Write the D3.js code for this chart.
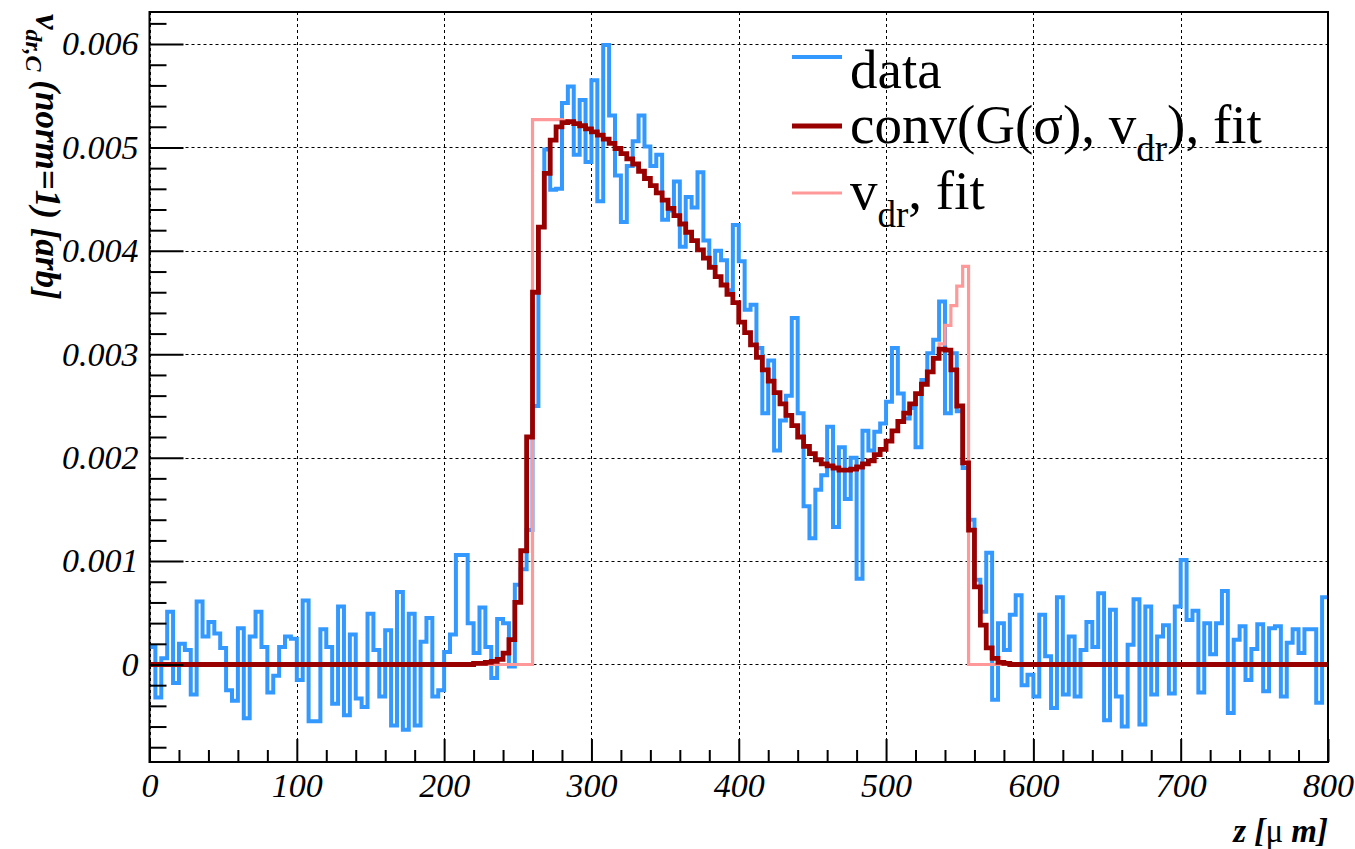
<!DOCTYPE html>
<html><head><meta charset="utf-8">
<script src="https://cdn.jsdelivr.net/npm/d3@7"></script>
<style>html,body{margin:0;padding:0;background:#fff;} svg{display:block;}</style>
</head><body>
<svg id="chart" width="1355" height="849"></svg>
<script>
// ---------- data (values in units of 1e-4) ----------
const unit = 1e-4;
const binWidth = 4; // µm
const binLowEdges = d3.range(0, 800, binWidth); // 200 bins, 0..800 µm

const dataVals = [
  1.7, -3.2, 0.6, 5.1, -1.8, 2.0, 1.4, -2.9, 6.1, 2.7,
  4.1, 3.0, 1.6, -2.5, -3.5, 3.5, -5.2, 2.7, 5.1, 1.7,
  -2.7, -1.1, 1.7, 2.7, 2.5, -1.5, 6.2, -5.5, -5.5, 3.4,
  1.7, -3.8, 5.6, -4.9, 2.9, -3.3, -4.1, 4.9, 1.4, -3.1,
  3.3, -5.9, 7.0, -6.3, 4.9, -5.9, 2.2, 4.5, -3.1, -2.5,
  1.2, 2.9, 10.6, 10.6, 4.0, 1.1, 5.5, 1.7, -1.3, 4.4,
  4.0, -0.2, 7.7, 9.2, 13.0, 25.0, 42.3, 49.8, 45.9, 46.0,
  54.3, 55.9, 49.3, 54.6, 48.6, 56.5, 44.8, 59.9, 53.1, 47.3,
  42.8, 48.2, 50.6, 53.1, 50.1, 48.2, 49.3, 43.0, 43.9, 46.7,
  40.4, 45.2, 44.2, 47.6, 41.0, 38.5, 40.0, 39.1, 36.2, 42.5,
  39.0, 34.3, 34.8, 30.6, 24.3, 29.4, 20.7, 23.6, 26.0, 33.5,
  24.3, 15.3, 12.2, 16.9, 18.3, 23.0, 13.3, 21.0, 16.0, 20.0,
  8.3, 22.6, 20.7, 22.5, 23.3, 25.4, 30.6, 26.2, 23.8, 24.8,
  21.0, 27.5, 30.1, 31.4, 35.1, 24.3, 30.1, 24.5, 19.0, 14.0,
  8.2, 5.1, 10.8, -3.4, 4.0, 1.4, 4.8, 6.7, -2.0, -1.0,
  -3.1, 4.8, 0.8, -4.2, 6.5, -2.9, 2.7, -3.1, 1.4, 4.1,
  1.7, 6.9, -5.4, 5.3, -3.1, -6.0, 1.9, 6.3, -5.8, 5.6,
  -2.9, 2.7, 3.8, -2.8, 5.6, 10.1, 4.3, 5.2, -2.7, 4.0,
  1.0, 4.0, 7.1, -4.7, 2.4, 3.7, -1.5, 1.5, 3.9, -2.6,
  3.5, 3.7, -3.1, 2.1, 3.4, 1.1, 3.4, 3.4, -3.7, 6.5
];

const convFitVals = [
  0, 0, 0, 0, 0, 0, 0, 0, 0, 0,
  0, 0, 0, 0, 0, 0, 0, 0, 0, 0,
  0, 0, 0, 0, 0, 0, 0, 0, 0, 0,
  0, 0, 0, 0, 0, 0, 0, 0, 0, 0,
  0, 0, 0, 0, 0, 0, 0, 0, 0, 0,
  0, 0, 0, 0, 0, 0.1, 0.1, 0.2, 0.3, 0.5,
  1.1, 2.4, 6.0, 11.0, 22.0, 36.0, 42.3, 47.5, 50.7, 52.0,
  52.4, 52.5, 52.3, 52.1, 51.8, 51.5, 51.2, 50.8, 50.4, 49.9,
  49.4, 48.9, 48.4, 47.7, 47.0, 46.3, 45.6, 44.9, 44.1, 43.4,
  42.6, 41.8, 41.0, 40.1, 39.3, 38.4, 37.5, 36.7, 35.8, 35.0,
  33.1, 32.1, 30.9, 29.7, 28.5, 27.4, 26.3, 25.2, 24.1, 23.1,
  22.0, 21.1, 20.4, 19.8, 19.4, 19.2, 19.0, 18.8, 18.8, 18.9,
  19.1, 19.4, 19.7, 20.3, 20.8, 21.6, 22.6, 23.5, 24.3, 25.2,
  26.2, 27.1, 28.3, 29.6, 30.5, 30.4, 28.5, 25.0, 19.5, 13.0,
  7.5, 3.8, 1.6, 0.6, 0.2, 0.1, 0, 0, 0, 0,
  0, 0, 0, 0, 0, 0, 0, 0, 0, 0,
  0, 0, 0, 0, 0, 0, 0, 0, 0, 0,
  0, 0, 0, 0, 0, 0, 0, 0, 0, 0,
  0, 0, 0, 0, 0, 0, 0, 0, 0, 0,
  0, 0, 0, 0, 0, 0, 0, 0, 0, 0
];

const vdrFitVals = [
  0, 0, 0, 0, 0, 0, 0, 0, 0, 0,
  0, 0, 0, 0, 0, 0, 0, 0, 0, 0,
  0, 0, 0, 0, 0, 0, 0, 0, 0, 0,
  0, 0, 0, 0, 0, 0, 0, 0, 0, 0,
  0, 0, 0, 0, 0, 0, 0, 0, 0, 0,
  0, 0, 0, 0, 0, 0, 0, 0, 0, 0,
  0, 0, 0, 0, 0, 52.7, 52.7, 52.7, 52.7, 52.7,
  52.6, 52.5, 52.3, 52.1, 51.8, 51.5, 51.2, 50.8, 50.4, 49.9,
  49.4, 48.9, 48.4, 47.7, 47.0, 46.3, 45.6, 44.9, 44.1, 43.4,
  42.6, 41.8, 41.0, 40.1, 39.3, 38.4, 37.5, 36.7, 35.8, 35.0,
  33.1, 32.1, 30.9, 29.7, 28.5, 27.4, 26.3, 25.2, 24.1, 23.1,
  22.0, 21.1, 20.4, 19.8, 19.4, 19.2, 19.0, 18.8, 18.8, 18.9,
  19.1, 19.4, 19.7, 20.3, 20.8, 21.6, 22.6, 23.5, 24.3, 25.2,
  26.2, 27.1, 28.3, 29.6, 31.0, 32.8, 34.7, 36.6, 38.5, 0,
  0, 0, 0, 0, 0, 0, 0, 0, 0, 0,
  0, 0, 0, 0, 0, 0, 0, 0, 0, 0,
  0, 0, 0, 0, 0, 0, 0, 0, 0, 0,
  0, 0, 0, 0, 0, 0, 0, 0, 0, 0,
  0, 0, 0, 0, 0, 0, 0, 0, 0, 0,
  0, 0, 0, 0, 0, 0, 0, 0, 0, 0
];

const xMajorTicks = [0, 100, 200, 300, 400, 500, 600, 700, 800];
const xTickLabels = ["0", "100", "200", "300", "400", "500", "600", "700", "800"];
const yMajorTicks = [0, 0.001, 0.002, 0.003, 0.004, 0.005, 0.006];
const yTickLabels = ["0", "0.001", "0.002", "0.003", "0.004", "0.005", "0.006"];
const xMinorTicks = [20,40,60,80,120,140,160,180,220,240,260,280,320,340,360,380,420,440,460,480,520,540,560,580,620,640,660,680,720,740,760,780];
const yMinorTicks = [-0.0008,-0.0006,-0.0004,-0.0002,0.0002,0.0004,0.0006,0.0008,0.0012,0.0014,0.0016,0.0018,0.0022,0.0024,0.0026,0.0028,0.0032,0.0034,0.0036,0.0038,0.0042,0.0044,0.0046,0.0048,0.0052,0.0054,0.0056,0.0058,0.0062];

const seriesColors = { data: "#3399ff", conv: "#990000", vdr: "#ff9999" };

// ---------- layout ----------
const L = 149.5, R = 1328, T = 12, B = 762;
const svg = d3.select("#chart");
const x = d3.scaleLinear().domain([0, 800]).range([L, R]);
const y = d3.scaleLinear().domain([-0.000943, 0.00631]).range([B, T]);

const serif = "'Liberation Serif', 'Times New Roman', Times, serif";

// grid
const grid = svg.append("g").attr("stroke", "#000").attr("stroke-width", 1).attr("stroke-dasharray", "3,3").attr("fill", "none");
grid.selectAll("line.gx").data(xMajorTicks).enter().append("line")
  .attr("x1", d => Math.round(x(d)) + 0.5).attr("x2", d => Math.round(x(d)) + 0.5).attr("y1", T).attr("y2", B);
grid.selectAll("line.gy").data(yMajorTicks).enter().append("line")
  .attr("x1", L).attr("x2", R).attr("y1", d => Math.round(y(d)) + 0.5).attr("y2", d => Math.round(y(d)) + 0.5);

// histogram step builder
function stepPoints(vals) {
  const pts = vals.map((v, i) => [binLowEdges[i], v * unit]);
  pts.push([binLowEdges[vals.length - 1] + binWidth, vals[vals.length - 1] * unit]);
  return pts;
}
const stepLine = d3.line().x(d => x(d[0])).y(d => y(d[1])).curve(d3.curveStepAfter);

svg.append("path").attr("d", stepLine(stepPoints(dataVals)))
  .attr("fill", "none").attr("stroke", seriesColors.data).attr("stroke-width", 4).attr("stroke-linejoin", "miter");
svg.append("path").attr("d", stepLine(stepPoints(vdrFitVals)))
  .attr("fill", "none").attr("stroke", seriesColors.vdr).attr("stroke-width", 3.2);
svg.append("path").attr("d", stepLine(stepPoints(convFitVals)))
  .attr("fill", "none").attr("stroke", seriesColors.conv).attr("stroke-width", 4.8);

// axes
const xAxis = d3.axisBottom(x).tickValues(xMajorTicks).tickFormat((d, i) => xTickLabels[i])
  .tickSizeInner(-23).tickSizeOuter(0).tickPadding(11);
const xAxisMinor = d3.axisBottom(x).tickValues(xMinorTicks).tickFormat("").tickSizeInner(-12).tickSizeOuter(0);
const yAxis = d3.axisLeft(y).tickValues(yMajorTicks).tickFormat((d, i) => yTickLabels[i])
  .tickSizeInner(-34).tickSizeOuter(0).tickPadding(11);
const yAxisMinor = d3.axisLeft(y).tickValues(yMinorTicks).tickFormat("").tickSizeInner(-17).tickSizeOuter(0);

function styleAxis(g) {
  g.attr("font-family", serif).attr("font-size", 34);
  g.select(".domain").remove();
  g.selectAll(".tick line").attr("stroke", "#000").attr("stroke-width", 2);
  g.selectAll(".tick text").attr("fill", "#000").attr("font-family", serif)
    .attr("font-style", "italic").attr("font-size", 34);
}
svg.append("g").attr("transform", `translate(0,${B})`).call(xAxis).call(styleAxis);
svg.append("g").attr("transform", `translate(0,${B})`).call(xAxisMinor).call(styleAxis);
svg.append("g").attr("transform", `translate(${L},0)`).call(yAxis).call(styleAxis);
svg.append("g").attr("transform", `translate(${L},0)`).call(yAxisMinor).call(styleAxis);

// frame
svg.append("rect").attr("x", L).attr("y", T).attr("width", R - L).attr("height", B - T)
  .attr("fill", "none").attr("stroke", "#000").attr("stroke-width", 2);

// axis titles
const xt = svg.append("text").attr("x", R).attr("y", 842).attr("text-anchor", "end")
  .attr("font-family", serif).attr("font-size", 33).attr("fill", "#000");
xt.append("tspan").attr("font-weight", "bold").attr("font-style", "italic").text("z [");
xt.append("tspan").text("\u03bc");
xt.append("tspan").attr("font-weight", "bold").attr("font-style", "italic").text(" m]");

const yt = svg.append("text").attr("transform", `translate(36,${T + 2}) rotate(90)`).attr("text-anchor", "start")
  .attr("font-family", serif).attr("font-size", 35).attr("font-weight", "bold").attr("font-style", "italic").attr("fill", "#000");
yt.append("tspan").text("v");
yt.append("tspan").attr("font-size", 24).attr("dy", 10).text("dr,C");
yt.append("tspan").attr("dy", -10).text(" (norm=1) [arb]");

// legend
const legendRows = [
  { key: "data", lineY: 57, baseY: 88, width: 4 },
  { key: "conv", lineY: 126, baseY: 143, width: 4.8 },
  { key: "vdr", lineY: 193, baseY: 209, width: 3.2 }
];
const lg = svg.append("g");
lg.selectAll("line").data(legendRows).enter().append("line")
  .attr("x1", 792).attr("x2", 842).attr("y1", d => d.lineY).attr("y2", d => d.lineY)
  .attr("stroke", d => seriesColors[d.key]).attr("stroke-width", d => d.width);
function legText(row) {
  return lg.append("text").attr("x", 850).attr("y", row.baseY).attr("font-family", serif)
    .attr("font-size", 55).attr("fill", "#000");
}
legText(legendRows[0]).text("data");
const t2 = legText(legendRows[1]);
t2.append("tspan").text("conv(G(\u03c3), v");
t2.append("tspan").attr("font-size", 37).attr("dy", 18).text("dr");
t2.append("tspan").attr("dy", -18).text("), fit");
const t3 = legText(legendRows[2]);
t3.append("tspan").text("v");
t3.append("tspan").attr("font-size", 37).attr("dy", 18).text("dr");
t3.append("tspan").attr("dy", -18).text(", fit");
</script>
</body></html>
